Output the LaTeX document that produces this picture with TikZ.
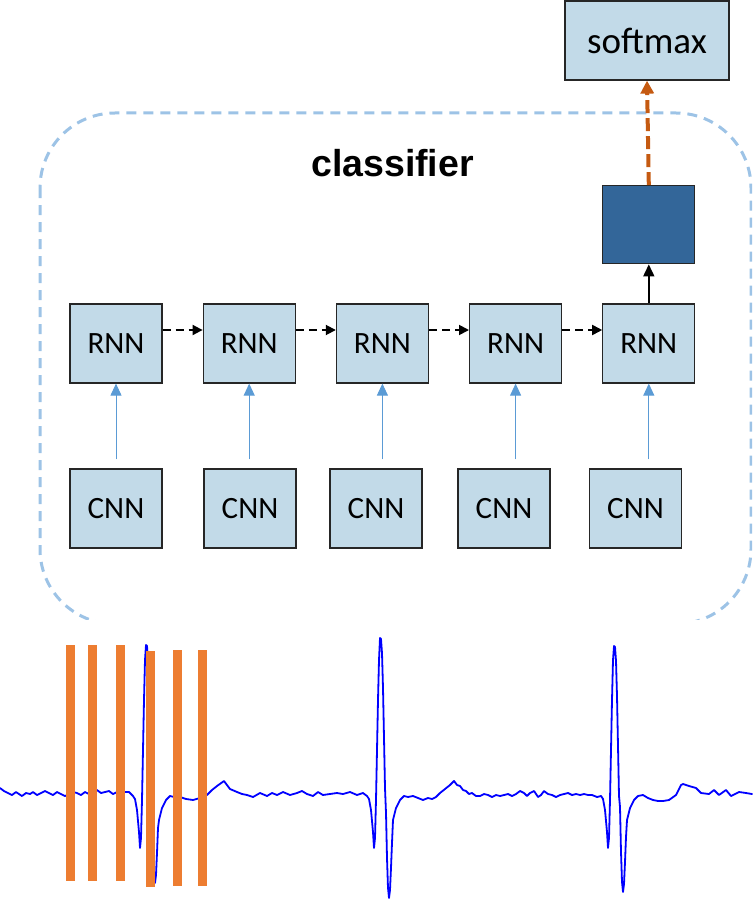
\documentclass[tikz,border=0pt]{standalone}
\usepackage{fontspec}
\setmainfont{Carlito}
\newfontfamily\headfont{Liberation Sans}
\usepackage{xcolor}
\usetikzlibrary{calc}
\usetikzlibrary{arrows.meta,positioning}
\definecolor{cellblue}{HTML}{C2DAE8}
\definecolor{denseblue}{HTML}{336699}
\definecolor{frameblue}{HTML}{9DC3E6}
\definecolor{feedblue}{HTML}{5B9BD5}
\definecolor{outorange}{HTML}{C55A11}
\definecolor{winorange}{HTML}{ED7D31}

\begin{document}
\begin{tikzpicture}[x=1pt,y=-1pt,node distance = 40pt,
	cell/.style={draw=black!85,line width=1.2pt,fill=cellblue,minimum width=92pt,minimum height=79pt,inner sep=0pt,font=\fontsize{31}{36}\selectfont},
	feed/.style={feedblue,line width=1pt,-{Triangle[length=12pt,width=11pt]}},
	recur/.style={black,line width=1.8pt,dash pattern=on 8pt off 5pt,-{Triangle[length=10pt,width=10pt]}},
	ecg/.style={blue,line width=1.8pt,line join=round,line cap=round}]
	\useasboundingbox (0,0) rectangle (752,904);

	% classifier frame, cut off at the signal
	\begin{scope}
		\clip (0,0) rectangle (752,619);
		\draw[frameblue,line width=3pt,dash pattern=on 10pt off 7pt,rounded corners=75pt] (40,113) rectangle (751,624);
	\end{scope}
	\node[font=\headfont\bfseries\fontsize{37.5}{44}\selectfont,anchor=base,inner sep=0pt] (title) at (392.5,176) {classifier};

	\node[cell] (rnn1) at (116,343.5) {RNN};
	\node[cell,right = of rnn1] (rnn2) {RNN};
	\node[cell,right = of rnn2] (rnn3) {RNN};
	\node[cell,right = of rnn3] (rnn4) {RNN};
	\node[cell,right = of rnn4] (rnn5) {RNN};

	\node[cell] (cnn1) at (116,508.5) {CNN};
	\node[cell] (cnn2) at (250,508.5) {CNN};
	\node[cell] (cnn3) at (376,508.5) {CNN};
	\node[cell] (cnn4) at (504,508.5) {CNN};
	\node[cell] (cnn5) at (635.5,508.5) {CNN};

	\node[cell,fill=denseblue,minimum height=78pt,above = 39pt of rnn5] (dense) {};
	\node[cell,minimum width=164pt,font=\fontsize{37}{44}\selectfont] (softmax) at (647,40.5) {softmax};

	\foreach \i in {1,...,5}
		\draw[feed] ($(rnn\i.south |- cnn\i.north)+(0,-9)$) -- (rnn\i.south);
	\foreach \i/\j in {1/2,2/3,3/4,4/5}
		\draw[recur] ([yshift=13.5pt]rnn\i.east) -- ([yshift=13.5pt]rnn\j.west);
	\draw[line width=1.6pt,-{Triangle[length=12pt,width=11pt]}] (rnn5.north) -- (dense.south);
	\draw[outorange,line width=4pt,dash pattern=on 13pt off 5pt,-{Triangle[length=13pt,width=13pt]}] (dense.north) -- (softmax.south);

	% signal
	\draw[ecg] (0,788) -- (4,791) -- (8,793) -- (12,795) -- (16,792) -- (19,794) -- (22,796) -- (26,793) -- (30,794) -- (33,792) -- (37,795) -- (41,793) -- (45,791) -- (49,793) -- (53,795) -- (57,792) -- (61,794) -- (65,796) -- (69,794) -- (73,792) -- (77,793) -- (81,795) -- (85,792) -- (89,794) -- (93,792) -- (97,790) -- (101,793) -- (105,792) -- (109,791) -- (113,794) -- (117,792) -- (121,790) -- (125,792) -- (129,792) -- (133,796);
	\draw[ecg] (170,796) -- (174,797) -- (180,797) -- (186,799) -- (193,800) -- (200,798) -- (207,795) -- (212,790) -- (217,786) -- (224,781) -- (230,789) -- (237,792) -- (242,794) -- (247,795) -- (253,797) -- (260,793) -- (267,796) -- (272,793) -- (277,795) -- (283,792) -- (290,795) -- (297,793) -- (302,791) -- (307,794) -- (313,796) -- (318,792) -- (323,795) -- (330,794) -- (337,793) -- (343,794) -- (350,792) -- (357,795) -- (363,793) -- (367,796);
	\draw[ecg] (404,796) -- (408,797) -- (413,796) -- (418,798) -- (423,800) -- (428,798) -- (432,799) -- (436,797) -- (440,793) -- (445,789) -- (450,785) -- (454,781) -- (457,785) -- (460,786) -- (463,790) -- (466,791) -- (469,794) -- (472,793) -- (476,796) -- (480,796) -- (484,794) -- (488,795) -- (492,797) -- (496,795) -- (500,796) -- (504,795) -- (508,794) -- (512,796) -- (516,794) -- (520,791) -- (524,793) -- (527,796) -- (530,793) -- (534,791) -- (538,797) -- (541,795) -- (544,791) -- (548,794) -- (552,795) -- (556,797) -- (560,795) -- (564,794) -- (568,793) -- (572,795) -- (576,794) -- (580,795) -- (584,794) -- (588,795) -- (592,795) -- (597,797) -- (601,796);
	\draw[ecg] (638,796) -- (643,795) -- (648,798) -- (653,800) -- (658,801) -- (663,801) -- (669,800) -- (676,795) -- (681,785) -- (683,784) -- (689,786) -- (696,788) -- (701,793) -- (709,794) -- (714,790) -- (719,795) -- (726,790) -- (731,796) -- (739,792) -- (746,793) -- (752,794);
	\foreach \p/\P/\D in {146/645/883,380/638/898,614/646/892}
		\draw[ecg] (\p-13,796) -- (\p-11,799) -- (\p-9,810) -- (\p-7,832) -- (\p-6,848) -- (\p-5,838) -- (\p-4,800) -- (\p-3,750) -- (\p-2,700) -- (\p-1,660) -- (\p,\P) -- (\p+1,\P+1) -- (\p+2,\P+15) -- (\p+3,\P+50) -- (\p+4,\P+100) -- (\p+5,\P+150) -- (\p+6,\D-85) -- (\p+7,\D-40) -- (\p+8,\D-10) -- (\p+9,\D) -- (\p+10,\D-8) -- (\p+11,\D-30) -- (\p+12,\D-55) -- (\p+13,820) -- (\p+16,808) -- (\p+20,800) -- (\p+24,796);

	% windows
	\foreach \x/\y in {66/645,88/645,116/645,146/651,173/650,198/650}
		\fill[winorange] (\x,\y) rectangle (\x+9,\y+236);
\end{tikzpicture}
\end{document}
